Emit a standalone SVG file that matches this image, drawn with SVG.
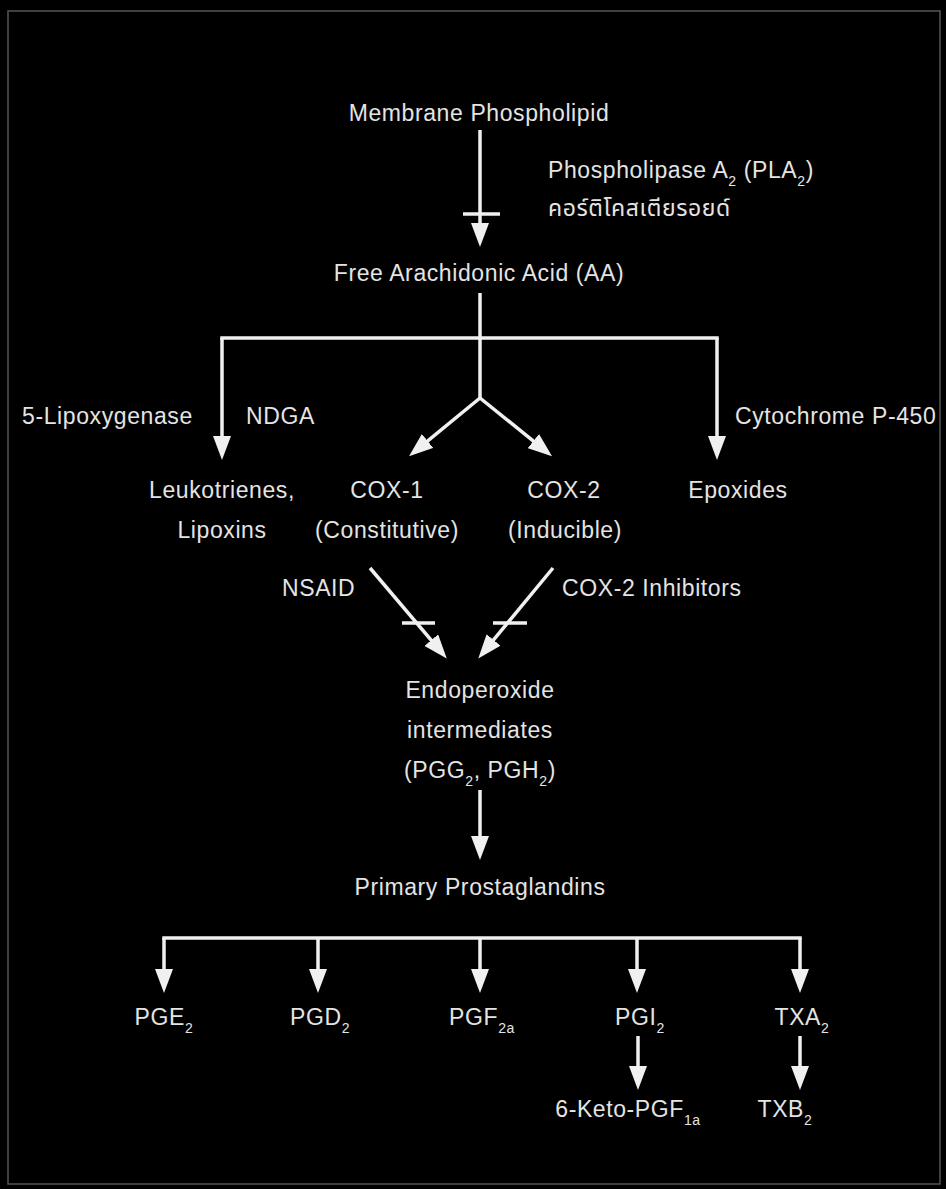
<svg xmlns="http://www.w3.org/2000/svg" width="946" height="1189" viewBox="0 0 946 1189">
<style>
text { font-family: "Liberation Sans", Arial, "Noto Sans Thai", sans-serif; font-size: 23px; fill: #e4e4e4; letter-spacing: 0.6px; }
.m { text-anchor: middle; }
.sub { font-size: 14px; }
.ln { stroke: #f0f0f0; stroke-width: 3.5; fill: none; stroke-linecap: butt; }
.ar { marker-end: url(#ah); }
.bar { stroke: #f0f0f0; stroke-width: 3.5; }
</style>
<defs>
<marker id="ah" markerUnits="userSpaceOnUse" viewBox="0 0 24 18" refX="12" refY="9" markerWidth="24" markerHeight="18" orient="auto">
<path d="M0,0 L24,9 L0,18 z" fill="#f0f0f0"/>
</marker>
</defs>
<rect x="0" y="0" width="946" height="1189" fill="#000"/>
<rect x="8" y="11" width="932" height="1173" fill="none" stroke="#555" stroke-width="1.5"/>

<g id="connectors">
<path class="ln ar" d="M480,130 L480,235"/>
<line class="bar" x1="463" y1="214" x2="500" y2="214"/>
<path class="ln" d="M480,293 L480,398"/>
<path class="ln" d="M220.25,338 L718.75,338"/>
<path class="ln ar" d="M222,338 L222,448"/>
<path class="ln ar" d="M717,338 L717,448"/>
<path class="ln ar" d="M480,398 L418.3,448.6"/>
<path class="ln ar" d="M480,398 L542.7,448.6"/>
<path class="ln ar" d="M370,568 L439,649.3"/>
<line class="bar" x1="402" y1="623" x2="435" y2="623"/>
<path class="ln ar" d="M553,568 L485.9,649.2"/>
<line class="bar" x1="493" y1="623" x2="527" y2="623"/>
<path class="ln ar" d="M480,790 L480,848"/>
<path class="ln" d="M162.25,938 L801.75,938"/>
<path class="ln ar" d="M164,938 L164,981"/>
<path class="ln ar" d="M318,938 L318,981"/>
<path class="ln ar" d="M480,938 L480,981"/>
<path class="ln ar" d="M637,938 L637,981"/>
<path class="ln ar" d="M800,938 L800,981"/>
<path class="ln ar" d="M638,1036 L638,1078"/>
<path class="ln ar" d="M800,1036 L800,1078"/>
</g>

<g id="membrane"><text class="m" x="479" y="121">Membrane Phospholipid</text></g>
<g id="pla2"><text x="548" y="178">Phospholipase A<tspan class="sub" dy="8">2</tspan><tspan dy="-8"> (PLA</tspan><tspan class="sub" dy="8">2</tspan><tspan dy="-8">)</tspan></text>
<text x="548" y="216">คอร์ติโคสเตียรอยด์</text></g>
<g id="aa"><text class="m" x="479" y="281">Free Arachidonic Acid (AA)</text></g>
<g id="lox"><text x="22" y="424">5-Lipoxygenase</text></g>
<g id="ndga"><text x="246" y="424">NDGA</text></g>
<g id="p450"><text x="735" y="424">Cytochrome P-450</text></g>
<g id="leuko"><text class="m" x="222" y="498">Leukotrienes,</text><text class="m" x="222" y="538">Lipoxins</text></g>
<g id="cox1"><text class="m" x="387" y="498">COX-1</text><text class="m" x="387" y="538">(Constitutive)</text></g>
<g id="cox2"><text class="m" x="564" y="498">COX-2</text><text class="m" x="565" y="538">(Inducible)</text></g>
<g id="epox"><text class="m" x="738" y="498">Epoxides</text></g>
<g id="nsaid"><text x="282" y="596">NSAID</text></g>
<g id="cox2inh"><text x="562" y="596">COX-2 Inhibitors</text></g>
<g id="endo"><text class="m" x="480" y="698">Endoperoxide</text><text class="m" x="480" y="738">intermediates</text>
<text class="m" x="480" y="778">(PGG<tspan class="sub" dy="8">2</tspan><tspan dy="-8">, PGH</tspan><tspan class="sub" dy="8">2</tspan><tspan dy="-8">)</tspan></text></g>
<g id="primary"><text class="m" x="480" y="895">Primary Prostaglandins</text></g>
<g id="pge2"><text class="m" x="164" y="1025">PGE<tspan class="sub" dy="8">2</tspan></text></g>
<g id="pgd2"><text class="m" x="320" y="1025">PGD<tspan class="sub" dy="8">2</tspan></text></g>
<g id="pgf2a"><text class="m" x="482" y="1025">PGF<tspan class="sub" dy="8">2a</tspan></text></g>
<g id="pgi2"><text class="m" x="640" y="1025">PGI<tspan class="sub" dy="8">2</tspan></text></g>
<g id="txa2"><text class="m" x="802" y="1025">TXA<tspan class="sub" dy="8">2</tspan></text></g>
<g id="keto"><text class="m" x="628" y="1117">6-Keto-PGF<tspan class="sub" dy="8">1a</tspan></text></g>
<g id="txb2"><text class="m" x="785" y="1117">TXB<tspan class="sub" dy="8">2</tspan></text></g>
</svg>
